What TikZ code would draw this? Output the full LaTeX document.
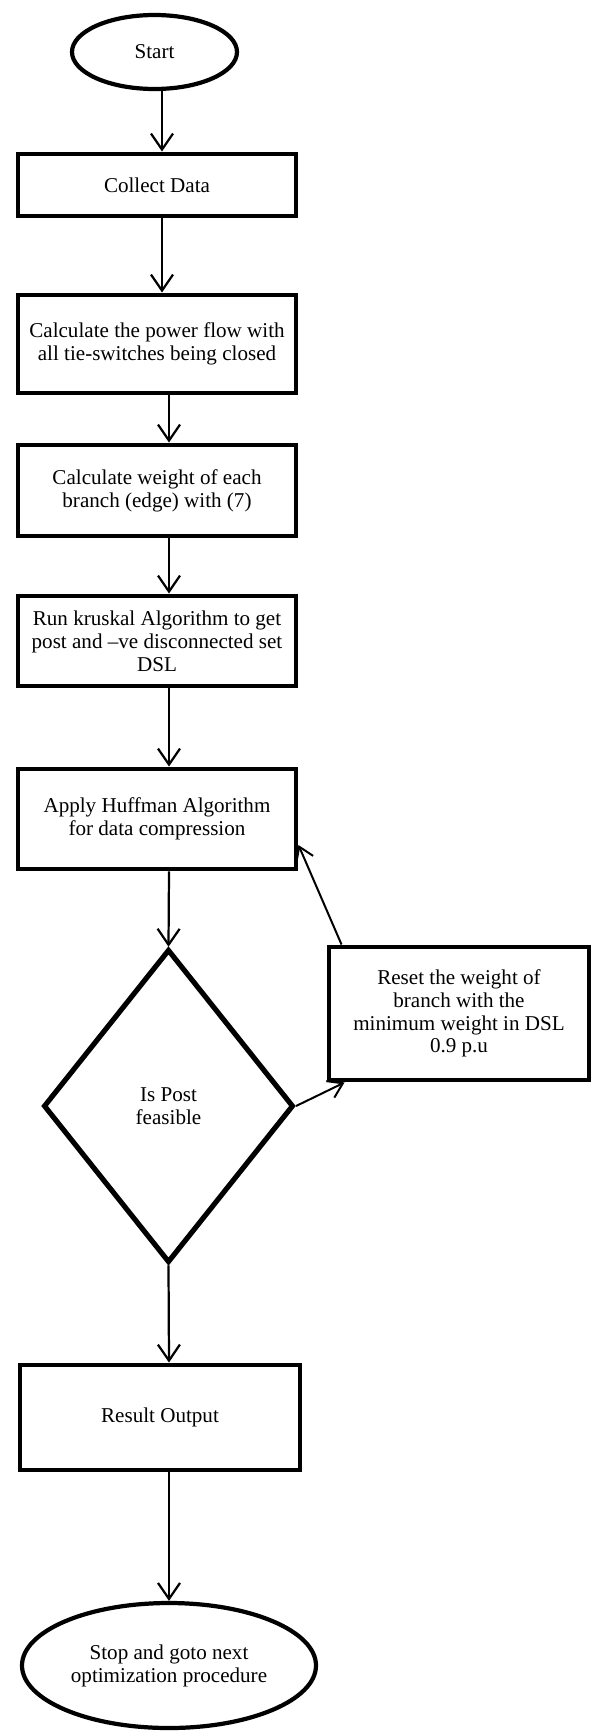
\documentclass[tikz,border=0pt]{standalone}
\usepackage{fontspec}
\setmainfont{Liberation Serif}
\usepackage{tikz}
\usetikzlibrary{arrows.meta, shapes.geometric, positioning}

\begin{document}
\begin{tikzpicture}[
    box/.style={rectangle, draw=black, line width=4.2pt, fill=white,
                minimum width=8.34cm, inner sep=0pt, align=center,
                font=\fontsize{18}{19.5}\selectfont},
    term/.style={ellipse, draw=black, line width=3.6pt, fill=white,
                 inner sep=0pt, align=center, font=\fontsize{18}{19.5}\selectfont},
    decide/.style={diamond, draw=black, line width=4.4pt, fill=white,
                   inner sep=0pt, align=center, font=\fontsize{18}{19.5}\selectfont},
    arrow/.style={-{Straight Barb[length=0.48cm, width=0.66cm]}, line width=1.9pt, color=black},
    back/.style={-{Straight Barb[length=0.42cm, width=0.55cm]}, line width=1.7pt, color=black}
]
    \useasboundingbox (0,0) rectangle (17.82,-51.93);
    % columns the arrows run in
    \coordinate (colA) at (4.86,0);
    \coordinate (colB) at (5.07,0);

    \node[term, minimum width=4.95cm, minimum height=2.22cm] (start) at (4.635,-1.56) {Start};
    \node[box, minimum height=1.86cm] (b1) at (4.71,-5.55) {Collect Data};
    \node[box, minimum height=2.94cm] (b2) at (4.71,-10.32) {Calculate the power flow with\\all tie-switches being closed};
    \node[box, minimum height=2.73cm] (b3) at (4.71,-14.715) {Calculate weight of each\\branch (edge) with (7)};
    \node[box, minimum height=2.70cm] (b4) at (4.71,-19.23) {Run kruskal Algorithm to get\\post and –ve disconnected set\\DSL};
    \node[box, minimum height=3.00cm] (b5) at (4.71,-24.57) {Apply Huffman Algorithm\\for data compression};
    \node[decide, minimum width=7.5cm, minimum height=9.4cm] (dec) at (5.055,-33.18) {Is Post\\feasible};
    \node[box, minimum width=7.8cm, minimum height=3.99cm] (reset) at (13.77,-30.405) {Reset the weight of\\branch with the\\minimum weight in DSL\\0.9 p.u};
    \node[box, minimum width=8.4cm, minimum height=3.15cm] (result) at (4.8,-42.525) {Result Output};
    \node[term, minimum width=8.82cm, minimum height=3.75cm] (stop) at (5.07,-49.965) {Stop and goto next\\optimization procedure};

    \draw[arrow] (start.south -| colA) -- (b1.north -| colA);
    \draw[arrow] (b1.south -| colA) -- (b2.north -| colA);
    \draw[arrow] (b2.south -| colB) -- (b3.north -| colB);
    \draw[arrow] (b3.south -| colB) -- (b4.north -| colB);
    \draw[arrow] (b4.south -| colB) -- (b5.north -| colB);
    \draw[arrow] (b5.south -| colB) -- (dec.north);
    \draw[arrow] (dec.south) -- (result.north -| colB);
    \draw[arrow] (result.south -| colB) -- (stop.north);
    % loop back when not feasible
    \draw[back] (dec.east) -- ([xshift=0.54cm]reset.south west);
    \draw[back] ([xshift=0.45cm]reset.north west) -- ([yshift=-0.78cm]b5.east);
\end{tikzpicture}
\end{document}
